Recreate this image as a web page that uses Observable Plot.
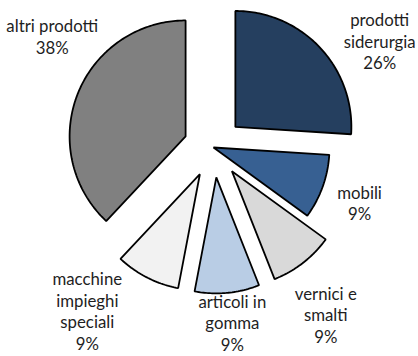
<!DOCTYPE html>
<html><head><meta charset="utf-8">
<script src="https://cdn.jsdelivr.net/npm/d3@7"></script>
<script src="https://cdn.jsdelivr.net/npm/@observablehq/plot@0.6"></script>
<style>html,body{margin:0;padding:0;background:#fff}</style>
</head><body><div id="chart"></div>
<script>
// ---- data ----
const categories = ["prodotti siderurgia", "mobili", "vernici e smalti", "articoli in gomma", "macchine impieghi speciali", "altri prodotti"];
const values = [26, 9, 9, 9, 9, 38];
const labelLines = [["prodotti", "siderurgia"], ["mobili"], ["vernici e", "smalti"], ["articoli in", "gomma"], ["macchine", "impieghi", "speciali"], ["altri prodotti"]];
const colors = ["#253F5F", "#376092", "#D9D9D9", "#B9CDE5", "#F2F2F2", "#808080"];

// ---- layout ----
const W = 418, H = 356, cx = 213, cy = 147, R = 116;
const explode = [30, 0, 30, 30, 30, 30];
const labelTurn = [12.4, 0.8, 4.5, -0.9, 12.5, 15.4];
const labelDist = [168, 156, 171, 146, 177, 167];
const fontSize = 16.8, lineGap = 21.5;

const total = d3.sum(values);
const arcs = d3.pie().sort(null).value(d => d)(values);
const rad = d => d * Math.PI / 180;

const points = [];
const labels = [];
arcs.forEach((a, i) => {
  const mid = (a.startAngle + a.endAngle) / 2;
  const ox = cx + explode[i] * Math.sin(mid);
  const oy = cy - explode[i] * Math.cos(mid);
  points.push({key: categories[i], x: ox, y: oy});
  const n = Math.max(2, Math.ceil((a.endAngle - a.startAngle) / rad(1)));
  for (let k = 0; k <= n; k++) {
    const t = a.startAngle + (a.endAngle - a.startAngle) * k / n;
    points.push({key: categories[i], x: ox + R * Math.sin(t), y: oy - R * Math.cos(t)});
  }
  const lt = mid + rad(labelTurn[i]);
  const pct = Math.round(values[i] / total * 100) + "%";
  labels.push({
    key: categories[i],
    x: ox + labelDist[i] * Math.sin(lt),
    y: oy - labelDist[i] * Math.cos(lt),
    text: [...labelLines[i], pct].join("\n")
  });
});

const chart = Plot.plot({
  width: W, height: H,
  margin: 0,
  x: {domain: [0, W], range: [0, W], axis: null},
  y: {domain: [0, H], range: [0, H], axis: null},
  color: {type: "ordinal", domain: categories, range: colors},
  style: {background: "#fff"},
  marks: [
    Plot.line(points, {x: "x", y: "y", z: "key", fill: "key", stroke: "#000", strokeWidth: 1.8, strokeLinejoin: "miter", curve: "linear-closed"}),
    Plot.text(labels, {x: "x", y: "y", text: "text", fontSize, lineHeight: lineGap / fontSize, fill: "#1e1e1e", fontFamily: "Lato, 'Open Sans', sans-serif", textAnchor: "middle"})
  ]
});
document.getElementById("chart").appendChild(chart);
</script>
</body></html>
